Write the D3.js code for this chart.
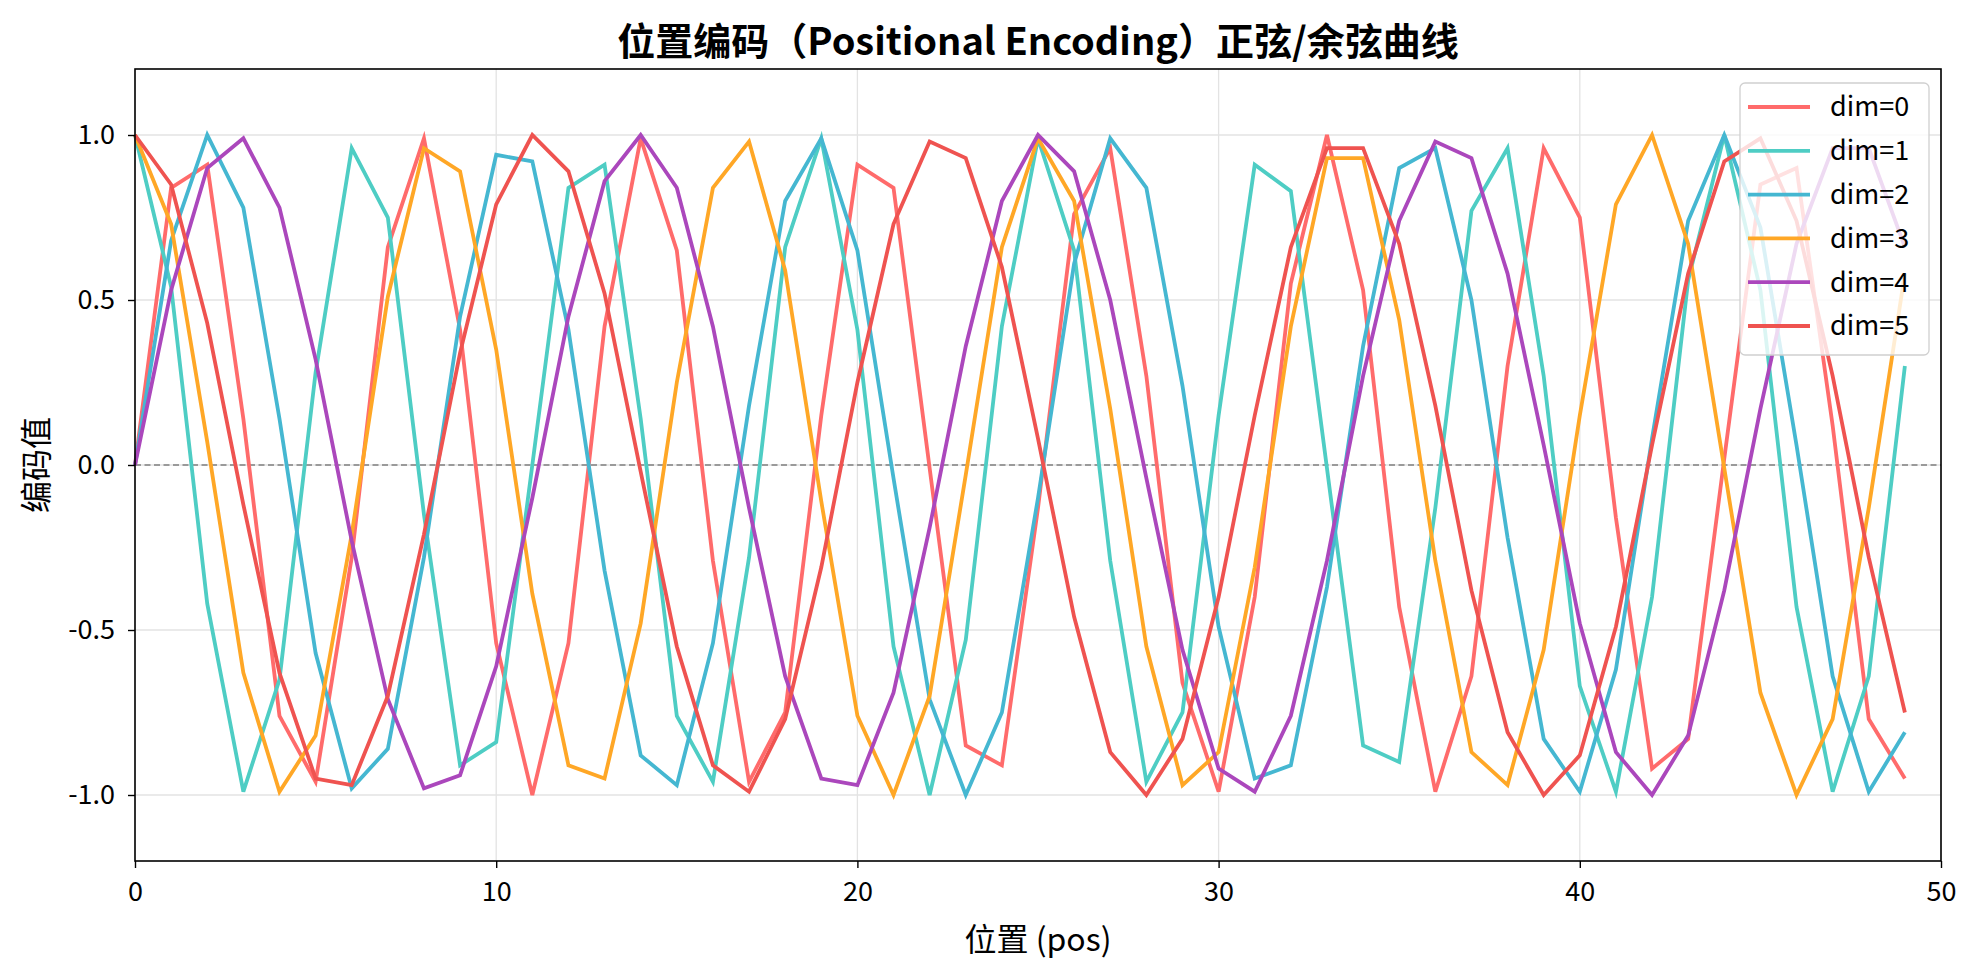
<!DOCTYPE html>
<html>
<head>
<meta charset="utf-8">
<script src="https://cdn.jsdelivr.net/npm/d3@7"></script>
<style>
  body { margin: 0; background: #fff; }
  svg { font-family: "Noto Sans CJK SC", "Noto Sans", sans-serif; }
</style>
</head>
<body>
<div id="chart"></div>
<script>
// values, pos = 0..49
var positions = d3.range(0, 50);
var dimNames = ["dim=0", "dim=1", "dim=2", "dim=3", "dim=4", "dim=5"];
var dimColors = ["#FF6B6B", "#4ECDC4", "#45B7D1", "#FFA726", "#AB47BC", "#EF5350"];

var dim0 = [0.00, 0.84, 0.91, 0.14, -0.76, -0.96, -0.28, 0.66, 0.99, 0.41,
  -0.54, -1.00, -0.54, 0.42, 0.99, 0.65, -0.29, -0.96, -0.75, 0.15,
  0.91, 0.84, -0.01, -0.85, -0.91, -0.13, 0.76, 0.96, 0.27, -0.66,
  -0.99, -0.40, 0.55, 1.00, 0.53, -0.43, -0.99, -0.64, 0.30, 0.96,
  0.75, -0.16, -0.92, -0.83, 0.02, 0.85, 0.90, 0.12, -0.77, -0.95];
var dim1 = [1.00, 0.54, -0.42, -0.99, -0.65, 0.28, 0.96, 0.75, -0.15, -0.91,
  -0.84, 0.00, 0.84, 0.91, 0.14, -0.76, -0.96, -0.28, 0.66, 0.99,
  0.41, -0.55, -1.00, -0.53, 0.42, 0.99, 0.65, -0.29, -0.96, -0.75,
  0.15, 0.91, 0.83, -0.01, -0.85, -0.90, -0.13, 0.77, 0.96, 0.27,
  -0.67, -0.99, -0.40, 0.56, 1.00, 0.53, -0.43, -0.99, -0.64, 0.30];
var dim2 = [0.00, 0.68, 1.00, 0.78, 0.14, -0.57, -0.98, -0.86, -0.28, 0.45,
  0.94, 0.92, 0.41, -0.32, -0.88, -0.97, -0.54, 0.18, 0.80, 0.99,
  0.65, -0.04, -0.71, -1.00, -0.75, -0.10, 0.61, 0.99, 0.84, 0.24,
  -0.49, -0.95, -0.91, -0.37, 0.36, 0.90, 0.96, 0.50, -0.22, -0.83,
  -0.99, -0.62, 0.08, 0.74, 1.00, 0.72, 0.06, -0.64, -0.99, -0.81];
var dim3 = [1.00, 0.73, 0.07, -0.63, -0.99, -0.82, -0.21, 0.51, 0.96, 0.89,
  0.35, -0.39, -0.91, -0.95, -0.48, 0.25, 0.84, 0.98, 0.59, -0.11,
  -0.76, -1.00, -0.70, -0.03, 0.66, 0.99, 0.80, 0.17, -0.55, -0.97,
  -0.87, -0.31, 0.42, 0.93, 0.93, 0.44, -0.29, -0.87, -0.97, -0.56,
  0.15, 0.79, 1.00, 0.67, -0.01, -0.69, -1.00, -0.77, -0.13, 0.58];
var dim4 = [0.00, 0.53, 0.90, 0.99, 0.78, 0.32, -0.23, -0.71, -0.98, -0.94,
  -0.61, -0.10, 0.45, 0.86, 1.00, 0.84, 0.42, -0.13, -0.64, -0.95,
  -0.97, -0.69, -0.19, 0.36, 0.80, 1.00, 0.89, 0.50, -0.04, -0.56,
  -0.92, -0.99, -0.76, -0.29, 0.27, 0.74, 0.98, 0.93, 0.58, 0.06,
  -0.48, -0.87, -1.00, -0.82, -0.38, 0.17, 0.67, 0.96, 0.96, 0.66];
var dim5 = [1.00, 0.85, 0.43, -0.12, -0.63, -0.95, -0.97, -0.70, -0.21, 0.34,
  0.79, 1.00, 0.89, 0.52, -0.02, -0.55, -0.91, -0.99, -0.77, -0.31,
  0.25, 0.73, 0.98, 0.93, 0.60, 0.08, -0.46, -0.87, -1.00, -0.83,
  -0.40, 0.15, 0.66, 0.96, 0.96, 0.67, 0.18, -0.38, -0.81, -1.00,
  -0.88, -0.49, 0.06, 0.58, 0.92, 0.99, 0.74, 0.27, -0.28, -0.75];
var dimValues = [dim0, dim1, dim2, dim3, dim4, dim5];

var xTicks = [0, 10, 20, 30, 40, 50];
var yTicks = [-1.0, -0.5, 0.0, 0.5, 1.0];

var W = 1978, H = 977;
var margin = {top: 69, right: 37, bottom: 116, left: 135};
var iw = W - margin.left - margin.right;
var ih = H - margin.top - margin.bottom;

var svg = d3.select("#chart").append("svg")
  .attr("width", W).attr("height", H);

var x = d3.scaleLinear().domain([0, 50]).range([0, iw]);
var y = d3.scaleLinear().domain([-1.2, 1.2]).range([ih, 0]);

var g = svg.append("g")
  .attr("transform", "translate(" + margin.left + "," + margin.top + ")");

// grid
g.append("g").selectAll("line").data(xTicks).enter().append("line")
  .attr("x1", function(d){ return x(d); }).attr("x2", function(d){ return x(d); })
  .attr("y1", 0).attr("y2", ih)
  .attr("stroke", "#e3e3e3").attr("stroke-width", 1.3);
g.append("g").selectAll("line").data(yTicks).enter().append("line")
  .attr("x1", 0).attr("x2", iw)
  .attr("y1", function(d){ return y(d); }).attr("y2", function(d){ return y(d); })
  .attr("stroke", "#e3e3e3").attr("stroke-width", 1.3);

// zero line
g.append("line")
  .attr("x1", 0).attr("x2", iw).attr("y1", y(0)).attr("y2", y(0))
  .attr("stroke", "#808080").attr("stroke-width", 1.6)
  .attr("stroke-dasharray", "6,3.5");

// curves
var line = d3.line()
  .x(function(d, i){ return x(positions[i]); })
  .y(function(d){ return y(d); });

g.append("g").selectAll("path").data(dimValues).enter().append("path")
  .attr("d", line)
  .attr("fill", "none")
  .attr("stroke", function(d, i){ return dimColors[i]; })
  .attr("stroke-width", 3.8)
  .attr("stroke-linejoin", "miter");

// axes
var xAxis = g.append("g").attr("transform", "translate(0," + ih + ")")
  .call(d3.axisBottom(x).tickValues(xTicks).tickFormat(d3.format("d")).tickSize(7).tickPadding(14));
var yAxis = g.append("g")
  .call(d3.axisLeft(y).tickValues(yTicks).tickFormat(d3.format(".1f")).tickSize(7).tickPadding(13));
[xAxis, yAxis].forEach(function(a){
  a.select(".domain").remove();
  a.selectAll(".tick line").attr("stroke", "#000").attr("stroke-width", 1.4);
  a.selectAll(".tick text").attr("fill", "#000")
    .style("font-size", "27px")
    .style("font-family", "'Noto Sans CJK SC', sans-serif");
});
yAxis.selectAll(".tick text").text(function(d){ return d3.format(".1f")(d).replace("−", "-"); });

// frame
g.append("rect").attr("width", iw).attr("height", ih)
  .attr("fill", "none").attr("stroke", "#000").attr("stroke-width", 1.6);

// title and labels
svg.append("text")
  .attr("x", margin.left + iw / 2).attr("y", 55)
  .attr("text-anchor", "middle")
  .style("font-size", "38px").style("font-weight", "bold")
  .text("位置编码（Positional Encoding）正弦/余弦曲线");

svg.append("text")
  .attr("x", margin.left + iw / 2).attr("y", 951)
  .attr("text-anchor", "middle")
  .style("font-size", "32px")
  .text("位置 (pos)");

svg.append("text")
  .attr("transform", "translate(36," + (margin.top + ih / 2) + ") rotate(-90)")
  .attr("text-anchor", "middle")
  .attr("dy", "0.36em")
  .style("font-size", "32px")
  .text("编码值");

// legend
var lg = g.append("g").attr("transform", "translate(" + (iw - 201) + ",14)");
lg.append("rect")
  .attr("width", 189).attr("height", 272).attr("rx", 5)
  .attr("fill", "#fff").attr("fill-opacity", 0.8)
  .attr("stroke", "#d0d0d0").attr("stroke-width", 1.3);
var items = lg.selectAll("g.item").data(dimNames).enter().append("g")
  .attr("transform", function(d, i){ return "translate(0," + (24 + i * 43.8) + ")"; });
items.append("line")
  .attr("x1", 8).attr("x2", 70).attr("y1", 0).attr("y2", 0)
  .attr("stroke", function(d, i){ return dimColors[i]; })
  .attr("stroke-width", 3.8);
items.append("text")
  .attr("x", 90).attr("y", 0).attr("dy", "0.35em")
  .style("font-size", "27px")
  .text(function(d){ return d; });
</script>
</body>
</html>
